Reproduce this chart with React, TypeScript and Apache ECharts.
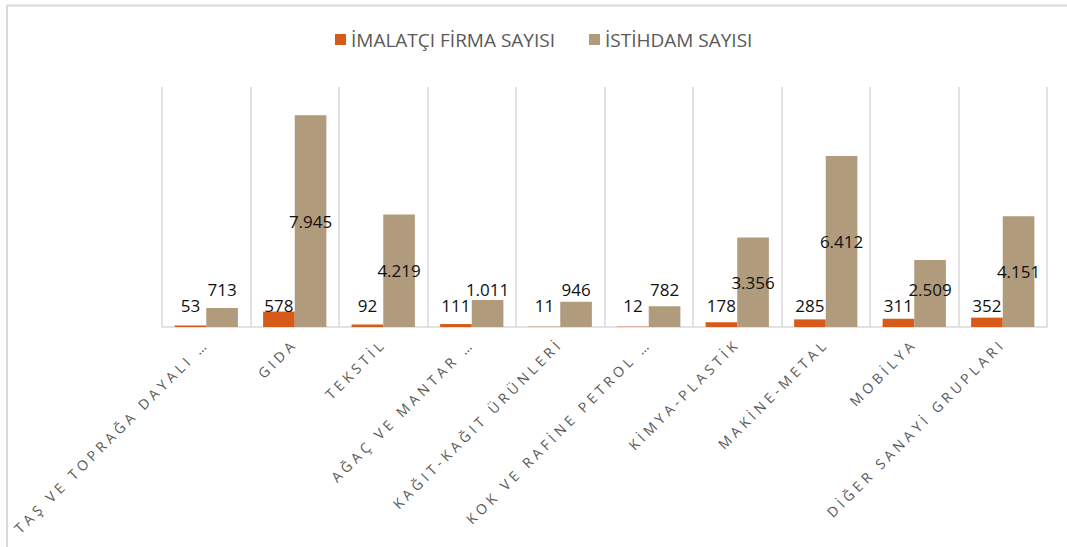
import React, { useEffect, useRef } from "react";
import * as echarts from "echarts";

const categories = [
  "TAŞ VE TOPRAĞA DAYALI …",
  "GIDA",
  "TEKSTİL",
  "AĞAÇ VE MANTAR …",
  "KAĞIT-KAĞIT ÜRÜNLERİ",
  "KOK VE RAFİNE PETROL …",
  "KİMYA-PLASTİK",
  "MAKİNE-METAL",
  "MOBİLYA",
  "DİĞER SANAYİ GRUPLARI",
];
const seriesNames = ["İMALATÇI FİRMA SAYISI", "İSTİHDAM SAYISI"];
const firmCounts = [53, 578, 92, 111, 11, 12, 178, 285, 311, 352];
const employment = [713, 7945, 4219, 1011, 946, 782, 3356, 6412, 2509, 4151];
const yMax = 9000;

const fmt = (v: number) => String(v).replace(/\B(?=(\d{3})+(?!\d))/g, ".");

export default function App() {
  const ref = useRef<HTMLDivElement>(null);
  useEffect(() => {
    if (!ref.current) return;
    const el = ref.current;
    const chart = echarts.init(el, null, { renderer: "svg" });
    const spaceLabels = () => {
      el.querySelectorAll("text").forEach((t) => {
        if (categories.includes((t.textContent || "").trim())) {
          (t as any).style.letterSpacing = "4px";
          t.setAttribute("letter-spacing", "4");
        }
      });
    };
    chart.on("finished", spaceLabels);
    const labelStyle = {
      show: true,
      position: "inside",
      color: "#111111",
      fontSize: 17,
      fontFamily: "Open Sans",
      formatter: (p: any) => fmt(p.value),
    };
    chart.setOption({
      animation: false,
      backgroundColor: "#ffffff",
      graphic: [
        {
          type: "rect",
          shape: { x: 7, y: 5.5, width: 1200, height: 700 },
          style: { fill: "none", stroke: "#d9d9d9", lineWidth: 2 },
          silent: true,
        },
      ],
      legend: {
        left: 335,
        top: 30,
        padding: 0,
        itemWidth: 11,
        itemHeight: 11,
        itemGap: 34,
        icon: "rect",
        textStyle: { color: "#595959", fontSize: 19, fontFamily: "Open Sans" },
        data: seriesNames,
      },
      grid: { left: 162, right: 20, top: 87, bottom: 220, containLabel: false },
      xAxis: {
        type: "category",
        data: categories,
        axisLine: { show: true, lineStyle: { color: "#d9d9d9", width: 1.5 } },
        axisTick: { show: false },
        splitLine: { show: true, lineStyle: { color: "#d9d9d9", width: 1.5 } },
        axisLabel: {
          interval: 0,
          rotate: 45,
          margin: 14,
          color: "#595959",
          fontSize: 14,
          fontFamily: "Open Sans",
        },
      },
      yAxis: {
        type: "value",
        min: 0,
        max: yMax,
        show: false,
        splitLine: { show: false },
      },
      series: [
        {
          name: seriesNames[0],
          type: "bar",
          data: firmCounts,
          barGap: "0%",
          barCategoryGap: "28.5%",
          itemStyle: { color: "#D65A1A" },
          label: labelStyle,
          labelLayout: (p: any) => ({
            x: p.rect.x + p.rect.width / 2,
            y: p.rect.y + p.rect.height - 21.5,
            align: "center",
            verticalAlign: "middle",
          }),
        },
        {
          name: seriesNames[1],
          type: "bar",
          data: employment,
          barGap: "0%",
          barCategoryGap: "28.5%",
          itemStyle: { color: "#B09B7C" },
          label: labelStyle,
          labelLayout: (p: any) => ({
            x: p.rect.x + p.rect.width / 2,
            y: Math.min(p.rect.y + p.rect.height / 2, p.rect.y + p.rect.height - 38),
            align: "center",
            verticalAlign: "middle",
          }),
        },
      ],
    });
    spaceLabels();
    const timer = setTimeout(spaceLabels, 50);
    return () => {
      clearTimeout(timer);
      chart.dispose();
    };
  }, []);
  return (
    <div
      ref={ref}
      style={{ position: "fixed", left: 0, top: 0, width: 1067, height: 547, background: "#fff" }}
    />
  );
}
